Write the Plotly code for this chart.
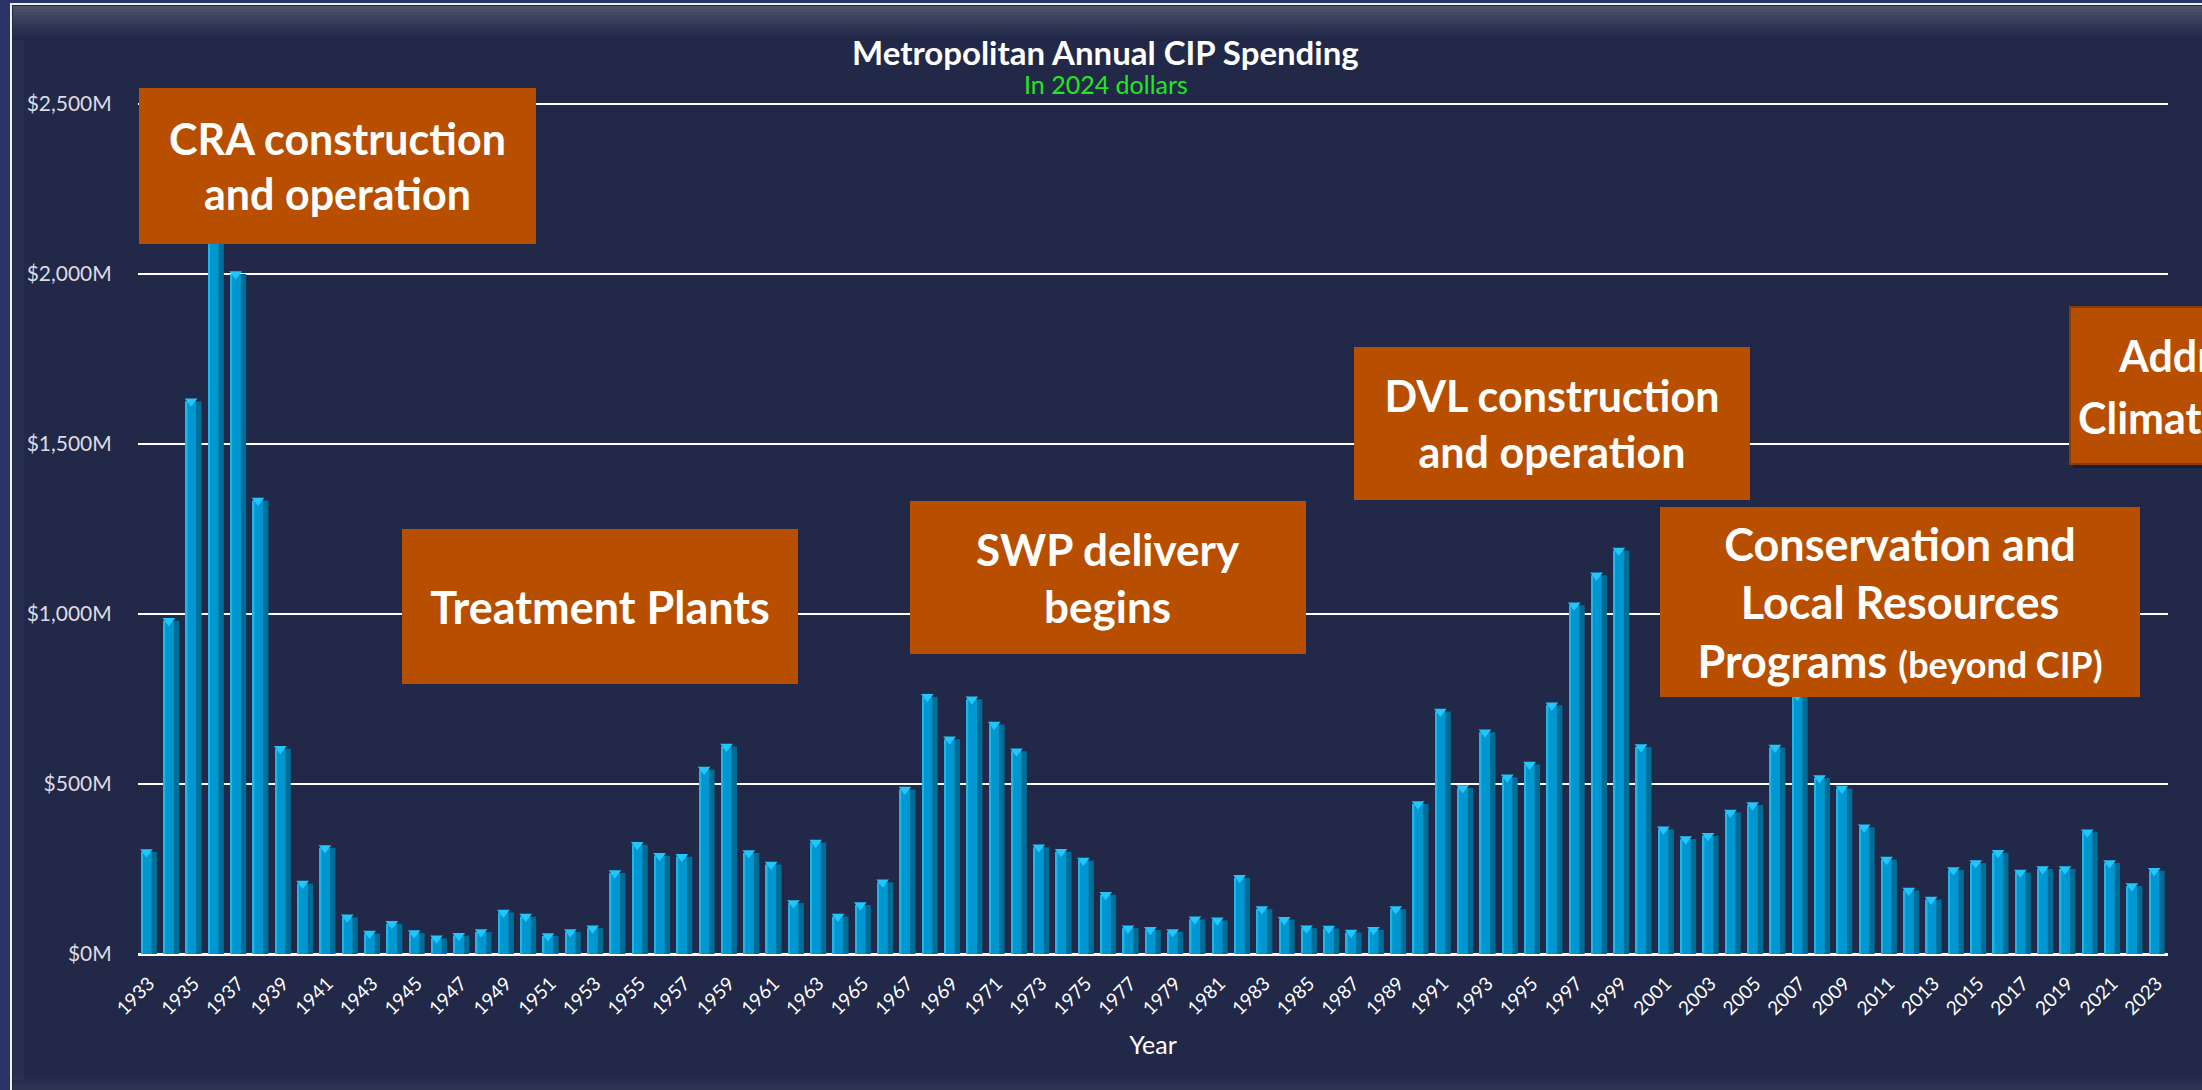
import plotly.graph_objects as go

# ---------------- data ----------------
years = list(range(1933, 2024))
spending_musd = [
    300, 980, 1626, 2150, 2000, 1334, 604, 207, 312, 108,   # 1933-1942
    60, 89, 62, 46, 54, 65, 122, 110, 53, 65,               # 1943-1952
    76, 238, 321, 289, 286, 543, 610, 297, 263, 150,        # 1953-1962
    328, 110, 144, 211, 484, 757, 632, 749, 675, 596,       # 1963-1972
    314, 301, 275, 174, 76, 71, 65, 102, 99, 224,           # 1973-1982
    132, 101, 76, 75, 63, 71, 132, 441, 713, 488,           # 1983-1992
    652, 520, 557, 732, 1026, 1114, 1187, 609, 367, 338,    # 1993-2002
    348, 416, 438, 607, 760, 518, 487, 373, 278, 187,       # 2003-2012
    160, 247, 268, 298, 240, 250, 250, 358, 268, 200,       # 2013-2022
    245,                                                    # 2023
]
y_tick_values = [0, 500, 1000, 1500, 2000, 2500]
y_tick_labels = ["$0M", "$500M", "$1,000M", "$1,500M", "$2,000M", "$2,500M"]
x_tick_years = years[::2]
x_tick_labels = [str(y) for y in x_tick_years]

title_text = "Metropolitan Annual CIP Spending"
subtitle_text = "In 2024 dollars"
x_title = "Year"

# ---------------- geometry helpers ----------------
W, H = 2202, 1090
L, R, T, B = 138, 2168, 103, 954


def px(x):
    return (x - L) / (R - L)


def py(y):
    return (B - y) / (B - T)


FONT = "Lato, 'Open Sans', sans-serif"
BG = "#222848"
ORANGE = "#B84F00"

fig = go.Figure()

# dark (right) side of each bar
fig.add_trace(go.Bar(x=years, y=spending_musd, width=0.70,
                     marker=dict(color="#006d96", line=dict(width=0)),
                     hoverinfo="x+y", showlegend=False))
# main (left) face of each bar
fig.add_trace(go.Bar(x=years, y=spending_musd, width=0.46, offset=-0.35,
                     marker=dict(color="#0097d0", line=dict(width=0)),
                     hoverinfo="skip", showlegend=False))
# left highlight
fig.add_trace(go.Bar(x=years, y=spending_musd, width=0.07, offset=-0.35,
                     marker=dict(color="#1fb4ea", line=dict(width=0)),
                     hoverinfo="skip", showlegend=False))
# bevelled cap at the top of each bar
fig.add_trace(go.Scatter(x=[yr - 0.12 for yr in years], y=spending_musd, mode="markers",
                         marker=dict(symbol="triangle-down", size=11, color="#22c6fa",
                                     line=dict(width=0)),
                         hoverinfo="skip", showlegend=False, cliponaxis=True))

shapes = []
# outer frame / panel
shapes.append(dict(type="rect", xref="paper", yref="paper", layer="below",
                   x0=px(11), x1=px(W + 20), y0=py(4), y1=py(H + 20),
                   fillcolor=BG, line=dict(color="#f0f0f0", width=2)))
# top bevel gradient
for i in range(12):
    shapes.append(dict(type="rect", xref="paper", yref="paper", layer="below",
                       x0=px(13), x1=px(W + 20), y0=py(6 + i * 3), y1=py(9 + i * 3),
                       fillcolor="white", opacity=0.20 * (1 - i / 12) ** 1.5,
                       line=dict(width=0)))
# left bevel
shapes.append(dict(type="rect", xref="paper", yref="paper", layer="below",
                   x0=px(13), x1=px(24), y0=py(40), y1=py(H - 10),
                   fillcolor="white", opacity=0.03, line=dict(width=0)))
# bottom bevel
for i in range(5):
    shapes.append(dict(type="rect", xref="paper", yref="paper", layer="below",
                       x0=px(13), x1=px(W + 20), y0=py(H - i * 3), y1=py(H - 3 - i * 3),
                       fillcolor="white", opacity=0.06 * (1 - i / 5), line=dict(width=0)))

# partially visible box at right edge (with darker border + shadow)
shapes.append(dict(type="rect", xref="paper", yref="paper", layer="above",
                   x0=px(2073), x1=px(2400), y0=py(311), y1=py(468),
                   fillcolor="#12101a", opacity=0.55, line=dict(width=0)))
shapes.append(dict(type="rect", xref="paper", yref="paper", layer="above",
                   x0=px(2070), x1=px(2400), y0=py(307), y1=py(464),
                   fillcolor=ORANGE, line=dict(color="#8a3a05", width=2)))

annotations = []
annotations.append(dict(text=f"<b>{title_text}</b>", xref="paper", yref="paper",
                        x=px(1105), y=py(52), xanchor="center", yanchor="middle",
                        showarrow=False, font=dict(family=FONT, size=33, color="white")))
annotations.append(dict(text=subtitle_text, xref="paper", yref="paper",
                        x=px(1106), y=py(84), xanchor="center", yanchor="middle",
                        showarrow=False, font=dict(family=FONT, size=25, color="#22e622")))


def box(text, x0, y0, x1, y1, size=44):
    annotations.append(dict(text=text, xref="paper", yref="paper",
                            x=px(x0), y=py(y0), xanchor="left", yanchor="top",
                            width=x1 - x0, height=y1 - y0, align="center", valign="middle",
                            bgcolor=ORANGE, borderpad=0, borderwidth=0, showarrow=False,
                            font=dict(family=FONT, size=size, color="white")))


box("<b>CRA construction<br>and operation</b>", 139, 88, 536, 244, size=43)
box("<b>Treatment Plants</b>", 402, 529, 798, 684, size=45)
box("<b>SWP delivery<br>begins</b>", 910, 501, 1306, 654, size=44)
box("<b>DVL construction<br>and operation</b>", 1354, 347, 1750, 500, size=43)
box("<b>Conservation and<br>Local Resources<br>Programs <span style='font-size:36px'>(beyond CIP)</span></b>",
    1660, 507, 2140, 697, size=45)

annotations.append(dict(text="<b>Addressing</b>", xref="paper", yref="paper",
                        x=px(2116), y=py(355), xanchor="left", yanchor="middle",
                        showarrow=False, font=dict(family=FONT, size=43, color="white")))
annotations.append(dict(text="<b>Climate Change</b>", xref="paper", yref="paper",
                        x=px(2076), y=py(417), xanchor="left", yanchor="middle",
                        showarrow=False, font=dict(family=FONT, size=43, color="white")))

fig.update_layout(
    width=W, height=H,
    margin=dict(l=L, r=W - R, t=T, b=H - B, pad=0),
    paper_bgcolor="#2b3468", plot_bgcolor=BG,
    barmode="overlay", bargap=0.3,
    shapes=shapes, annotations=annotations,
    font=dict(family=FONT, color="white"),
    showlegend=False,
)
fig.update_xaxes(range=[1932.5, 2023.5], tickmode="array", tickvals=x_tick_years,
                 ticktext=x_tick_labels, tickangle=-45, showgrid=False,
                 ticks="outside", ticklen=10, tickcolor="rgba(0,0,0,0)",
                 tickfont=dict(family=FONT, size=19, color="white"),
                 title=dict(text=x_title, font=dict(family=FONT, size=25, color="white"), standoff=18),
                 showline=False, zeroline=False)
fig.update_yaxes(range=[0, 2503], tickmode="array", tickvals=y_tick_values,
                 ticktext=y_tick_labels, showgrid=True, gridcolor="white", gridwidth=2,
                 zeroline=True, zerolinecolor="white", zerolinewidth=3,
                 ticks="outside", ticklen=21, tickcolor="rgba(0,0,0,0)",
                 tickfont=dict(family=FONT, size=21, color="#dcdce4"), showline=False)

fig.write_html("out.html", config={"displayModeBar": False},
               post_script="document.body.style.margin='0';"
                           "document.documentElement.style.overflow='hidden';")
